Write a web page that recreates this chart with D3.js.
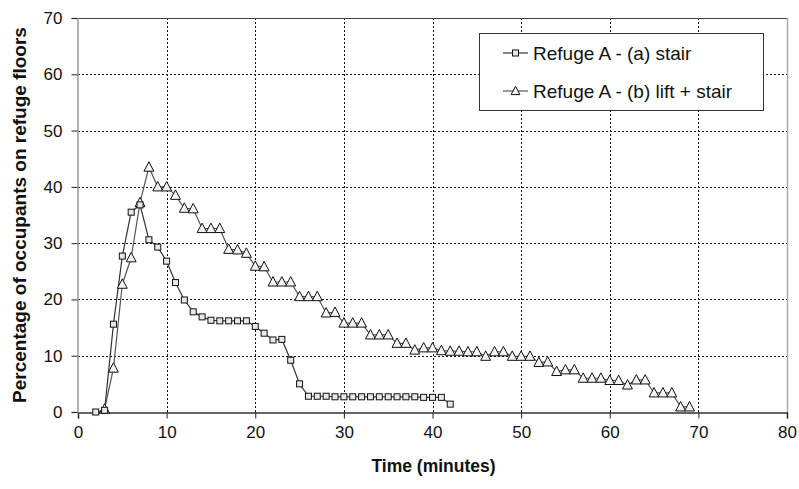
<!DOCTYPE html>
<html>
<head>
<meta charset="utf-8">
<script src="https://cdn.jsdelivr.net/npm/d3@7"></script>
<style>
  html, body { margin: 0; padding: 0; background: #fff; }
  svg { display: block; font-family: Arial, "Liberation Sans", Helvetica, sans-serif; }
</style>
</head>
<body>
<svg id="chart" width="799" height="489"></svg>
<script>
// Time (minutes) for each series
const stairTimes = d3.range(2, 43);
const liftTimes = d3.range(3, 70);

// Percentage of occupants on refuge floors
const stairValues = [
  0, 0.3, 15.6, 27.7, 35.5, 36.8, 30.6, 29.3, 26.8, 23.0,
  19.9, 17.8, 16.9, 16.3, 16.2, 16.2, 16.2, 16.2, 15.2, 14.0,
  12.8, 12.9, 9.2, 5.0, 2.8, 2.8, 2.8, 2.7, 2.7, 2.7,
  2.7, 2.7, 2.7, 2.7, 2.7, 2.7, 2.7, 2.6, 2.6, 2.6, 1.4
];
const liftValues = [
  0.5, 7.8, 22.7, 27.4, 37.2, 43.5, 40.0, 40.0, 38.5, 36.2,
  36.1, 32.6, 32.6, 32.6, 28.9, 28.8, 28.2, 25.9, 25.8, 23.1,
  23.1, 23.1, 20.5, 20.5, 20.5, 17.6, 17.7, 15.8, 15.8, 15.8,
  13.7, 13.7, 13.7, 12.2, 12.2, 11.0, 11.4, 11.4, 10.9, 10.8,
  10.8, 10.7, 10.7, 9.9, 10.7, 10.7, 9.9, 9.9, 9.9, 8.8,
  8.9, 7.2, 7.5, 7.5, 6.0, 6.0, 6.0, 5.6, 5.6, 4.8,
  5.7, 5.7, 3.4, 3.4, 3.4, 0.9, 0.9
];

const seriesNames = ["Refuge A - (a) stair", "Refuge A - (b) lift + stair"];
const xTicks = [0, 10, 20, 30, 40, 50, 60, 70, 80];
const yTicks = [0, 10, 20, 30, 40, 50, 60, 70];

const svg = d3.select("#chart");
const plotLeft = 78, plotRight = 787, plotTop = 18, plotBottom = 412;

const x = d3.scaleLinear().domain([0, 80]).range([plotLeft, plotRight]);
const y = d3.scaleLinear().domain([0, 70]).range([plotBottom, plotTop]);

// dotted grid
const grid = svg.append("g").attr("stroke", "#111").attr("stroke-width", 1)
  .attr("stroke-dasharray", "2,2");
grid.selectAll("line.h").data(yTicks.filter(v => v > 0 && v < 70)).join("line")
  .attr("class", "h")
  .attr("x1", plotLeft).attr("x2", plotRight)
  .attr("y1", d => Math.round(y(d)) + 0.5).attr("y2", d => Math.round(y(d)) + 0.5);
grid.selectAll("line.v").data(xTicks.filter(v => v > 0 && v < 80)).join("line")
  .attr("class", "v")
  .attr("y1", plotTop).attr("y2", plotBottom)
  .attr("x1", d => Math.round(x(d)) + 0.5).attr("x2", d => Math.round(x(d)) + 0.5);

// frame
svg.append("line").attr("x1", plotLeft).attr("x2", plotRight)
  .attr("y1", plotTop + 0.5).attr("y2", plotTop + 0.5).attr("stroke", "#444");
svg.append("line").attr("x1", plotRight + 0.5).attr("x2", plotRight + 0.5)
  .attr("y1", plotTop).attr("y2", plotBottom).attr("stroke", "#aaa").attr("stroke-width", 1.5);

// axes
const xAxis = svg.append("g").attr("transform", `translate(0,${plotBottom + 0.5})`)
  .call(d3.axisBottom(x).tickValues(xTicks).tickSize(6).tickPadding(7).tickFormat(d3.format("d")));
xAxis.select(".domain").attr("stroke", "#333").attr("stroke-width", 1.5);
xAxis.selectAll(".tick line").attr("stroke", "#222");
xAxis.selectAll("text").attr("font-size", 17).attr("fill", "#111")
  .attr("font-family", "Arial, 'Liberation Sans', sans-serif");

const yAxis = svg.append("g").attr("transform", `translate(${plotLeft - 0.5},0)`)
  .call(d3.axisLeft(y).tickValues(yTicks).tickSize(6).tickPadding(9).tickFormat(d3.format("d")));
yAxis.select(".domain").attr("stroke", "#999").attr("stroke-width", 1.5);
yAxis.selectAll(".tick line").attr("stroke", "#222");
yAxis.selectAll("text").attr("font-size", 17).attr("fill", "#111")
  .attr("font-family", "Arial, 'Liberation Sans', sans-serif");

// axis titles
svg.append("text").attr("x", (plotLeft + plotRight) / 2 + 1).attr("y", 472)
  .attr("text-anchor", "middle").attr("font-weight", "bold").attr("font-size", 17.5)
  .attr("fill", "#111").text("Time (minutes)");
svg.append("text").attr("transform", `translate(26,${(plotTop + plotBottom) / 2}) rotate(-90)`)
  .attr("text-anchor", "middle").attr("font-weight", "bold").attr("font-size", 19)
  .attr("fill", "#111").text("Percentage of occupants on refuge floors");

// series
const stair = stairTimes.map((t, i) => ({ t, v: stairValues[i] }));
const lift = liftTimes.map((t, i) => ({ t, v: liftValues[i] }));
const line = d3.line().x(d => x(d.t)).y(d => y(d.v));

const sq = 6;
const triPath = s => `M0,${-s * 0.6}L${s * 0.55},${s * 0.45}L${-s * 0.55},${s * 0.45}Z`;

svg.append("path").datum(lift).attr("d", line).attr("fill", "none")
  .attr("stroke", "#555").attr("stroke-width", 1.2);
svg.append("path").datum(stair).attr("d", line).attr("fill", "none")
  .attr("stroke", "#333").attr("stroke-width", 1.2);

svg.append("g").selectAll("path").data(lift).join("path")
  .attr("transform", d => `translate(${x(d.t)},${y(d.v)})`)
  .attr("d", triPath(9)).attr("fill", "#f4f4f4").attr("stroke", "#111").attr("stroke-width", 1);
svg.append("g").selectAll("rect").data(stair).join("rect")
  .attr("x", d => x(d.t) - sq / 2).attr("y", d => y(d.v) - sq / 2)
  .attr("width", sq).attr("height", sq)
  .attr("fill", "#e8e8e8").attr("stroke", "#111").attr("stroke-width", 1);

// legend
const lg = svg.append("g");
lg.append("rect").attr("x", 479.5).attr("y", 33.5).attr("width", 284).attr("height", 77)
  .attr("fill", "#fff").attr("stroke", "#333").attr("stroke-width", 1);
const rows = [53, 91];
seriesNames.forEach((name, i) => {
  const yy = rows[i];
  lg.append("line").attr("x1", 503).attr("x2", 528).attr("y1", yy).attr("y2", yy)
    .attr("stroke", i === 0 ? "#333" : "#555").attr("stroke-width", 1.2);
  if (i === 0) {
    lg.append("rect").attr("x", 515.5 - 3).attr("y", yy - 3).attr("width", 6).attr("height", 6)
      .attr("fill", "#e8e8e8").attr("stroke", "#111");
  } else {
    lg.append("path").attr("transform", `translate(515.5,${yy})`).attr("d", triPath(8))
      .attr("fill", "#f4f4f4").attr("stroke", "#111");
  }
  lg.append("text").attr("x", 533).attr("y", yy).attr("dy", "0.35em")
    .attr("font-size", 19).attr("fill", "#111").text(name);
});
</script>
</body>
</html>
